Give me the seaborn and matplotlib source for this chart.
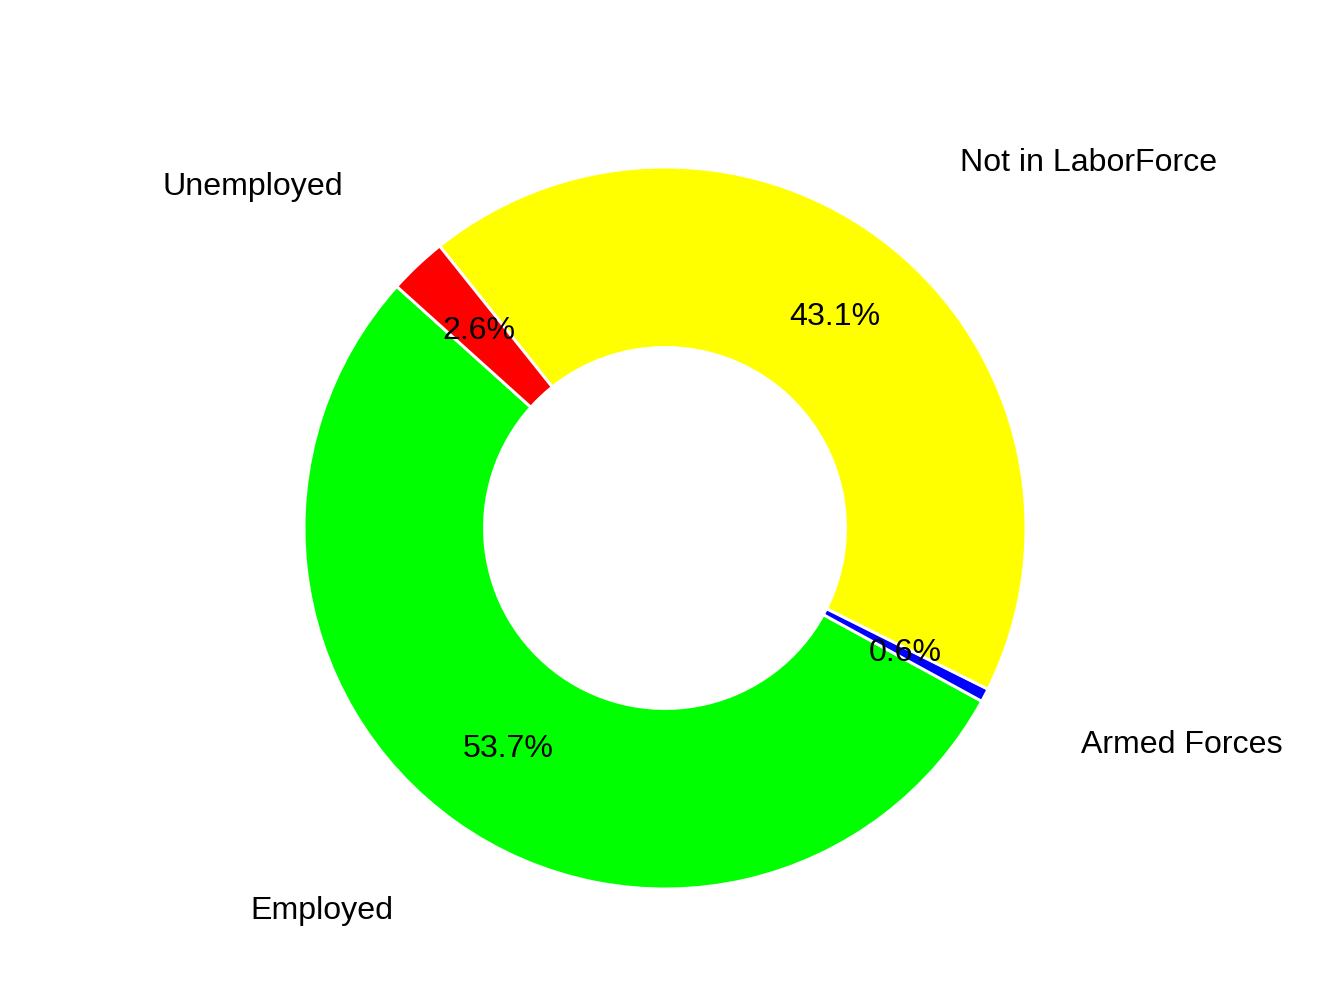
import matplotlib
matplotlib.use("Agg")
import matplotlib.pyplot as plt
import seaborn as sns

labels = ["Employed", "Armed Forces", "Not in LaborForce", "Unemployed"]
shares = [53.7, 0.6, 43.1, 2.6]
colors = ["#00ff00", "#0000ff", "#ffff00", "#ff0000"]

sns.set_theme(style="white", font="Liberation Sans")
plt.rcParams["font.size"] = 11

fig = plt.figure(figsize=(6.4, 4.8), dpi=210)
cx, cy = 665 / 1344, 1 - 528 / 1008
half = 1.1 * 361
ax = fig.add_axes([cx - half / 1344, cy - half / 1008, 2 * half / 1344, 2 * half / 1008])

ax.pie(shares, labels=labels, colors=colors, autopct="%1.1f%%",
       startangle=138, labeldistance=1.3, pctdistance=0.75,
       wedgeprops=dict(width=0.5), textprops=dict(fontsize=11, color="black"))
ax.set_xlim(-1.1, 1.1)
ax.set_ylim(-1.1, 1.1)
ax.set_aspect("equal")
ax.axis("off")

fig.savefig("out.png", dpi=210)
